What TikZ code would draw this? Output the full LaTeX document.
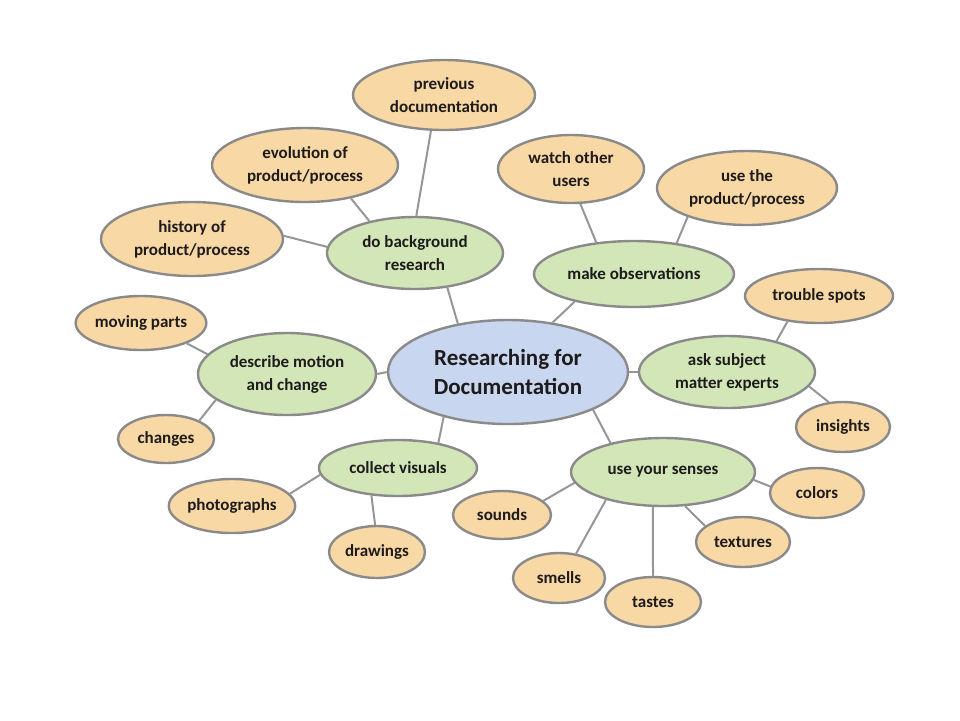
\documentclass[tikz,border=0pt]{standalone}
\usepackage{fontspec}
\setmainfont{Carlito}
\usetikzlibrary{shapes.geometric}
\definecolor{orangefill}{HTML}{F8D8A5}
\definecolor{greenfill}{HTML}{D3E6B8}
\definecolor{bluefill}{HTML}{C9D6EF}
\definecolor{edgegray}{HTML}{8A8A8A}
\definecolor{linegray}{HTML}{969696}
\definecolor{txt}{HTML}{1E1B1C}
\tikzset{
  bubble/.style n args={2}{ellipse, draw=edgegray, line width=1.2pt, inner sep=0pt,
    minimum width=#1, minimum height=#2, align=center, text=txt,
    font=\bfseries\fontsize{8.5}{11.5}\selectfont},
  leaf/.style 2 args={bubble={#1}{#2}, fill=orangefill},
  branch/.style 2 args={bubble={#1}{#2}, fill=greenfill},
  hub/.style 2 args={bubble={#1}{#2}, fill=bluefill, font=\bfseries\fontsize{11.5}{14.5}\selectfont},
  link/.style={draw=linegray, line width=1pt}
}
\begin{document}
\begin{tikzpicture}[x=0.5pt,y=-0.5pt]
\useasboundingbox (0,0) rectangle (960,720);
% hub
\node[hub={120pt}{52pt}] (main) at (508,372) {Researching for\\Documentation};
% branches
\node[branch={88pt}{36pt}] (bg) at (415,253) {do background\\research};
\node[branch={100pt}{33pt}] (obs) at (634,274) {make observations};
\node[branch={88pt}{36pt}] (ask) at (727,372) {ask subject\\matter experts};
\node[branch={92pt}{34pt}] (sens) at (663,472) {use your senses};
\node[branch={79pt}{28pt}] (coll) at (398,468) {collect visuals};
\node[branch={89pt}{41pt}] (desc) at (287,374) {describe motion\\and change};
% leaves
\node[leaf={91pt}{35pt}] (prev) at (444,95) {previous\\documentation};
\node[leaf={93pt}{37pt}] (evol) at (305,165) {evolution of\\product/process};
\node[leaf={91pt}{37pt}] (hist) at (192,239) {history of\\product/process};
\node[leaf={73pt}{34pt}] (watch) at (571,169) {watch other\\users};
\node[leaf={90pt}{37pt}] (use) at (747,188) {use the\\product/process};
\node[leaf={74pt}{27pt}] (trouble) at (819,296) {trouble spots};
\node[leaf={47pt}{25pt}] (ins) at (843,427) {insights};
\node[leaf={61pt}{27pt}] (moving) at (141,323) {moving parts};
\node[leaf={48pt}{24pt}] (chg) at (166,439) {changes};
\node[leaf={60pt}{27pt}] (photo) at (232,506) {photographs};
\node[leaf={48pt}{26pt}] (draw) at (377,552) {drawings};
\node[leaf={49pt}{24pt}] (sounds) at (502,515) {sounds};
\node[leaf={46pt}{25pt}] (smells) at (559,578) {smells};
\node[leaf={48pt}{25pt}] (tastes) at (653,602) {tastes};
\node[leaf={47pt}{25pt}] (text) at (743,542) {textures};
\node[leaf={47pt}{25pt}] (colors) at (817,493) {colors};
% connectors
\draw[link] (main.136) -- (bg.-47.6);
\draw[link] (bg.88) -- (prev.-110);
\draw[link] (bg.145) -- (evol.-36);
\draw[link] (bg.176.7) -- (hist.2);
\draw[link] (main.48) -- (obs.205);
\draw[link] (obs.140) -- (watch.-75.6);
\draw[link] (obs.36.4) -- (use.206);
\draw[link] (main.0) -- (ask.180);
\draw[link] (ask.32.6) -- (trouble.219);
\draw[link] (ask.-10) -- (ins.120.6);
\draw[link] (main.-24.9) -- (sens.151);
\draw[link] (main.180) -- (desc.0);
\draw[link] (desc.166.6) -- (moving.-24.4);
\draw[link] (desc.200) -- (chg.29);
\draw[link] (main.215.5) -- (coll.32);
\draw[link] (coll.185) -- (photo.12.6);
\draw[link] (coll.226) -- (draw.94.6);
\draw[link] (sens.187) -- (sounds.19);
\draw[link] (sens.206.6) -- (smells.55);
\draw[link] (sens.-106) -- (tastes.90);
\draw[link] (sens.-57.8) -- (text.157.4);
\draw[link] (sens.-5.8) -- (colors.172.4);
\end{tikzpicture}
\end{document}
